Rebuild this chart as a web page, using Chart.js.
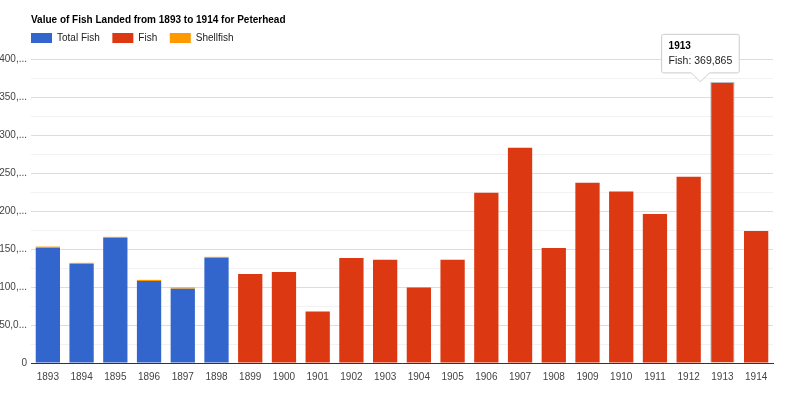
<!DOCTYPE html>
<html lang="en">
<head>
<meta charset="UTF-8">
<title>Value of Fish Landed - Peterhead</title>
<script src="https://cdn.jsdelivr.net/npm/chart.js@4.4.1/dist/chart.umd.min.js"></script>
<style>
    html, body { margin: 0; padding: 0; background: #fff; overflow: hidden; }
    canvas { display: block; }
</style>
</head>
<body>
<canvas id="fishChart" width="800" height="403"></canvas>

<script>
// Data
const years = ['1893', '1894', '1895', '1896', '1897', '1898', '1899', '1900', '1901', '1902', '1903',
               '1904', '1905', '1906', '1907', '1908', '1909', '1910', '1911', '1912', '1913', '1914'];
const totalFish = [151700, 130300, 164500, 107900, 97800, 138200,
                   null, null, null, null, null, null, null, null, null, null, null, null, null, null, null, null];
const fish = [null, null, null, null, null, null,
              117100, 119700, 67900, 138200, 135900, 99500, 135900, 224000, 283300, 151300,
              237200, 225800, 196000, 245100, 369865, 173700];
const shellfish = [1500, 1500, 1500, 1500, 1500, 1500,
                   null, null, null, null, null, null, null, null, null, null, null, null, null, null, null, null];
const yTickLabels = ['0', '50,0...', '100,...', '150,...', '200,...', '250,...', '300,...', '350,...', '400,...'];

const font = 'Arial, "Liberation Sans", sans-serif';

// line the title and legend up with the left edge of the plot
const headerShift = {
    id: 'headerShift',
    afterLayout(chart) {
        if (chart.titleBlock) chart.titleBlock.left = 31;
        if (chart.legend) chart.legend.left = 24;
    }
};

Chart.Tooltip.positioners.leftOfBar = function (items) {
    if (!items.length) return false;
    const el = items[0].element;
    return { x: el.x - 22, y: el.y + 2 };
};

const ctx = document.getElementById('fishChart').getContext('2d');
const fishChart = new Chart(ctx, {
    type: 'bar',
    data: {
        labels: years,
        datasets: [
            { label: 'Total Fish', data: totalFish, backgroundColor: '#3366cc' },
            { label: 'Fish', data: fish, backgroundColor: '#dc3912',
              hoverBackgroundColor: '#dc3912', hoverBorderColor: '#bbbbbb', hoverBorderWidth: 1 },
            { label: 'Shellfish', data: shellfish, backgroundColor: '#ff9900' }
        ]
    },
    options: {
        responsive: false,
        animation: false,
        events: [],
        layout: { padding: { left: 0, right: 27, top: 0, bottom: 12 } },
        datasets: { bar: { categoryPercentage: 1.0, barPercentage: 0.72 } },
        scales: {
            x: {
                stacked: true,
                grid: { display: false, drawTicks: false },
                border: { display: true, color: '#333333', width: 1 },
                ticks: { color: '#444444', font: { family: font, size: 10 }, padding: 8, maxRotation: 0, autoSkip: false }
            },
            // empty spacer between the legend and the plot
            xTop: {
                position: 'top',
                grid: { display: false, drawTicks: false },
                border: { display: false },
                ticks: { display: false },
                afterFit: scale => { scale.height = 6; }
            },
            y: {
                stacked: true,
                min: 0,
                max: 400000,
                border: { display: false },
                grid: {
                    drawTicks: false,
                    color: c => (c.tick && c.tick.value % 50000 === 0) ? '#dddddd' : '#f2f2f2'
                },
                ticks: {
                    stepSize: 25000,
                    padding: 4,
                    color: '#444444',
                    font: { family: font, size: 10 },
                    callback: v => (v % 50000 === 0) ? yTickLabels[v / 50000] : ''
                },
                afterFit: scale => { scale.width = 31; }
            }
        },
        plugins: {
            title: {
                display: true,
                text: 'Value of Fish Landed from 1893 to 1914 for Peterhead',
                align: 'start',
                color: '#000000',
                font: { family: font, size: 10, weight: 'bold' },
                padding: { top: 14, bottom: 0 }
            },
            legend: {
                display: true,
                align: 'start',
                labels: {
                    boxWidth: 21,
                    boxHeight: 10,
                    padding: 7,
                    color: '#222222',
                    font: { family: font, size: 10 },
                    generateLabels: chart => Chart.defaults.plugins.legend.labels.generateLabels(chart)
                        .map(item => Object.assign(item, { text: item.text + '  ', lineWidth: 0 }))
                }
            },
            tooltip: {
                animation: false,
                position: 'leftOfBar',
                xAlign: 'center',
                yAlign: 'bottom',
                backgroundColor: '#ffffff',
                borderColor: '#cccccc',
                borderWidth: 1,
                cornerRadius: 2,
                caretSize: 9,
                padding: { left: 7, right: 7, top: 6, bottom: 5 },
                displayColors: false,
                titleColor: '#000000',
                titleFont: { family: font, size: 10, weight: 'bold' },
                titleMarginBottom: 3,
                bodyColor: '#222222',
                bodyFont: { family: font, size: 10.5 }
            }
        }
    },
    plugins: [headerShift]
});

// show the tooltip on the 1913 Fish bar, like the reference
const active = [{ datasetIndex: 1, index: 20 }];
fishChart.setActiveElements(active);
fishChart.tooltip.setActiveElements(active, { x: 0, y: 0 });
fishChart.update();
</script>
</body>
</html>
